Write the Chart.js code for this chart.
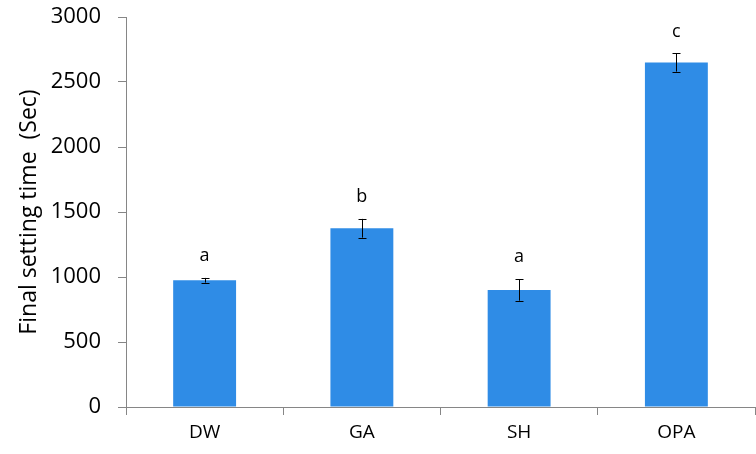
<!DOCTYPE html>
<html>
<head>
<meta charset="utf-8">
<script src="https://cdn.jsdelivr.net/npm/chart.js@4.4.0/dist/chart.umd.min.js"></script>
<style>
    html, body { margin: 0; padding: 0; background: #ffffff; }
    #wrap { width: 756px; height: 454px; position: relative; }
</style>
</head>
<body>
<div id="wrap"><canvas id="chart"></canvas></div>
<script>
const categories = ['DW', 'GA', 'SH', 'OPA'];
const setTimes = [975, 1375, 900, 2650];
const setErrors = [18, 72, 82, 70];
const groupLetters = ['a', 'b', 'a', 'c'];
const yTicks = [0, 500, 1000, 1500, 2000, 2500, 3000];

const axisGrey = '#868686';
const fontFamily = '"Open Sans", "Noto Sans", sans-serif';

// 误差线 + 显著性字母
const errorBarPlugin = {
    id: 'errorBars',
    afterDatasetsDraw(chart) {
        const ctx = chart.ctx;
        const meta = chart.getDatasetMeta(0);
        const yScale = chart.scales.y;
        ctx.save();
        ctx.strokeStyle = '#000000';
        ctx.lineWidth = 1;
        meta.data.forEach((bar, i) => {
            const x = Math.round(bar.x) + 0.5;
            const top = yScale.getPixelForValue(setTimes[i] + setErrors[i]);
            const bottom = yScale.getPixelForValue(setTimes[i] - setErrors[i]);
            ctx.beginPath();
            ctx.moveTo(x, top);
            ctx.lineTo(x, bottom);
            ctx.moveTo(x - 4, Math.round(top) + 0.5);
            ctx.lineTo(x + 4, Math.round(top) + 0.5);
            ctx.moveTo(x - 4, Math.round(bottom) + 0.5);
            ctx.lineTo(x + 4, Math.round(bottom) + 0.5);
            ctx.stroke();

            ctx.fillStyle = '#000000';
            ctx.font = '18px ' + fontFamily;
            ctx.textAlign = 'center';
            ctx.textBaseline = 'middle';
            ctx.fillText(groupLetters[i], bar.x, top - 22);
        });
        ctx.restore();
    }
};

new Chart(document.getElementById('chart').getContext('2d'), {
    type: 'bar',
    data: {
        labels: categories,
        datasets: [{
            data: setTimes,
            backgroundColor: '#2f8ce6',
            borderWidth: 0,
            categoryPercentage: 1.0,
            barPercentage: 0.4
        }]
    },
    options: {
        responsive: true,
        maintainAspectRatio: false,
        animation: false,
        layout: {
            padding: { top: 17, right: 1, bottom: 0, left: 0 }
        },
        plugins: {
            legend: { display: false },
            tooltip: { enabled: false }
        },
        scales: {
            x: {
                offset: true,
                grid: {
                    offset: true,
                    drawOnChartArea: false,
                    drawTicks: true,
                    tickLength: 8,
                    color: axisGrey
                },
                border: { color: axisGrey },
                ticks: {
                    color: '#000000',
                    padding: 6,
                    font: { size: 19, family: fontFamily }
                },
                afterFit(scale) { scale.height = 47; }
            },
            y: {
                min: 0,
                max: 3000,
                afterBuildTicks(scale) {
                    scale.ticks = yTicks.map(v => ({ value: v }));
                },
                grid: {
                    drawOnChartArea: false,
                    drawTicks: true,
                    tickLength: 8,
                    color: axisGrey
                },
                border: { color: axisGrey },
                ticks: {
                    color: '#000000',
                    padding: 17,
                    font: { size: 22, family: fontFamily },
                    callback: v => String(v)
                },
                title: {
                    display: true,
                    text: 'Final setting time  (Sec)',
                    color: '#000000',
                    padding: { top: 16, bottom: 0 },
                    font: { size: 23, family: fontFamily }
                },
                afterFit(scale) {
                    scale.width = 126;
                    scale.paddingTop = 0;
                    scale.paddingBottom = 0;
                }
            }
        }
    },
    plugins: [errorBarPlugin]
});
</script>
</body>
</html>
